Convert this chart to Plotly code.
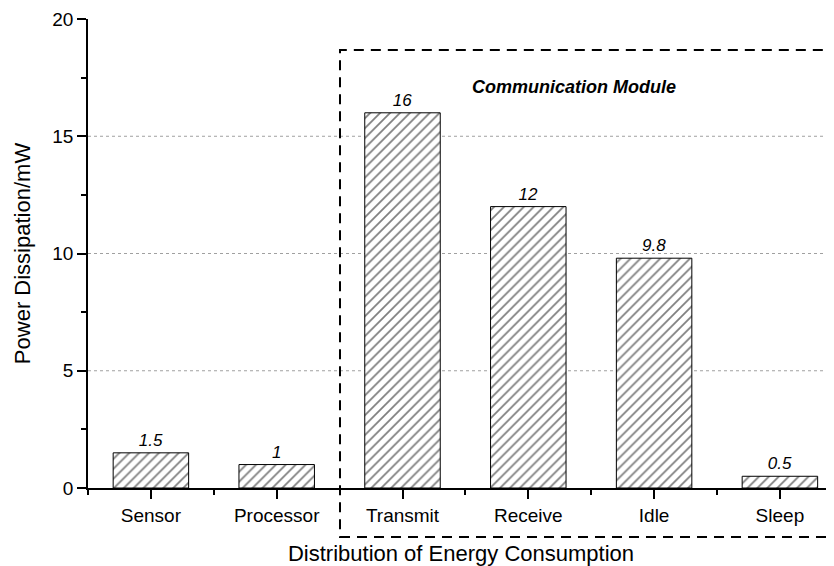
import plotly.graph_objects as go

categories = ["Sensor", "Processor", "Transmit", "Receive", "Idle", "Sleep"]
power_mw = [1.5, 1, 16, 12, 9.8, 0.5]
value_labels = ["1.5", "1", "16", "12", "9.8", "0.5"]
y_ticks = [0, 5, 10, 15, 20]
grid_values = [5, 10, 15]
module_label = "Communication Module"

FONT = "Arial, Liberation Sans, sans-serif"
x_pos = list(range(len(categories)))

fig = go.Figure()
fig.add_trace(go.Bar(
    x=x_pos,
    y=power_mw,
    width=0.6,
    text=value_labels,
    textposition="outside",
    textfont=dict(family=FONT, size=17, color="black", style="italic"),
    cliponaxis=False,
    marker=dict(
        color="white",
        line=dict(color="black", width=1),
        pattern=dict(shape="/", fgcolor="black", bgcolor="white", size=7, solidity=0.25),
    ),
    showlegend=False,
))

shapes = []
for g in grid_values:
    shapes.append(dict(type="line", xref="paper", x0=0, x1=1, yref="y", y0=g, y1=g,
                       line=dict(color="#a0a0a0", width=1, dash="dot"), layer="below"))
# dashed box around the communication module (starts at boundary 1.5)
shapes.append(dict(type="rect", xref="paper", yref="paper",
                   x0=0.3378, x1=1.03, y0=-0.1045, y1=0.934,
                   line=dict(color="black", width=2, dash="10px,7px"),
                   fillcolor="rgba(0,0,0,0)", layer="above"))

# page body has an 8px default margin, so the figure is sized to fit inside it
fig.update_layout(
    width=826, height=558,
    margin=dict(l=80, r=0, t=11, b=78),
    paper_bgcolor="white", plot_bgcolor="white",
    font=dict(family=FONT, color="black"),
    shapes=shapes,
    annotations=[dict(text="<b><i>" + module_label + "</i></b>", xref="paper", yref="paper",
                      x=0.652, y=0.8806, showarrow=False,
                      font=dict(family=FONT, size=18, color="black"))],
)
fig.update_xaxes(
    range=[-0.5, 5.43],
    tickmode="array", tickvals=x_pos, ticktext=categories,
    tickfont=dict(size=19),
    ticks="outside", ticklen=9, tickwidth=1.5, tickcolor="black",
    minor=dict(ticks="outside", ticklen=5, tickwidth=1.5, tickcolor="black",
               tick0=0.5, dtick=1),
    showline=True, linecolor="black", linewidth=1.5,
    showgrid=False, zeroline=False,
    title=dict(text="Distribution of Energy Consumption", font=dict(size=22), standoff=26),
    automargin=False,
)
fig.update_yaxes(
    range=[0, 20],
    tickmode="array", tickvals=y_ticks,
    tickfont=dict(size=19),
    ticks="outside", ticklen=9, tickwidth=1.5, tickcolor="black",
    minor=dict(ticks="outside", ticklen=5, tickwidth=1.5, tickcolor="black",
               tick0=2.5, dtick=5),
    showline=True, linecolor="black", linewidth=1.5,
    showgrid=False, zeroline=False,
    title=dict(text="Power Dissipation/mW", font=dict(size=22), standoff=16),
    automargin=False,
)

fig.write_html("out.html")
